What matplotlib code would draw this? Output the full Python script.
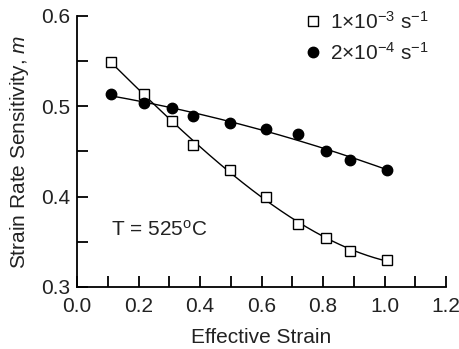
import numpy as np
import matplotlib
matplotlib.use("Agg")
import matplotlib.pyplot as plt
from matplotlib.ticker import MultipleLocator

plt.rcParams["font.family"] = ["Liberation Sans", "DejaVu Sans"]
plt.rcParams["mathtext.fontset"] = "custom"
plt.rcParams["mathtext.rm"] = "Liberation Sans"
plt.rcParams["mathtext.it"] = "Liberation Sans:italic"

# data
strain = [0.11, 0.218, 0.308, 0.378, 0.497, 0.616, 0.72, 0.809, 0.887, 1.008]
m_fast = [0.549, 0.514, 0.484, 0.457, 0.429, 0.400, 0.370, 0.354, 0.340, 0.330]
m_slow = [0.514, 0.504, 0.498, 0.489, 0.481, 0.475, 0.469, 0.451, 0.441, 0.430]
labels = ["1×10$^{-3}$ s$^{-1}$", "2×10$^{-4}$ s$^{-1}$"]

fs = 15
txt_color = "#222222"

fig = plt.figure(figsize=(4.6, 3.49), dpi=100)
ax = fig.add_axes([77 / 460, 1 - 287 / 349, (446 - 77) / 460, (287 - 16) / 349])

xs = np.linspace(strain[0], strain[-1], 200)
fit_fast = np.polyfit(strain, m_fast, 3)
fit_slow = np.polyfit(strain, m_slow, 2)
ax.plot(xs, np.polyval(fit_fast, xs), color="black", lw=1.0)
ax.plot(xs, np.polyval(fit_slow, xs), color="black", lw=1.0)

ax.plot(strain, m_fast, ls="none", marker="s", ms=7, mfc="white", mec="black",
        mew=1.0, label=labels[0], zorder=3)
ax.plot(strain, m_slow, ls="none", marker="o", ms=7.5, mfc="black", mec="black",
        label=labels[1], zorder=3)

ax.set_xlim(0, 1.2)
ax.set_ylim(0.3, 0.6)
ax.xaxis.set_major_locator(MultipleLocator(0.2))
ax.xaxis.set_minor_locator(MultipleLocator(0.1))
ax.yaxis.set_major_locator(MultipleLocator(0.1))
ax.yaxis.set_minor_locator(MultipleLocator(0.05))
ax.xaxis.set_major_formatter(plt.FormatStrFormatter("%.1f"))
ax.yaxis.set_major_formatter(plt.FormatStrFormatter("%.1f"))
ax.spines["top"].set_visible(False)
ax.spines["right"].set_visible(False)
ax.spines["left"].set_linewidth(1.3)
ax.spines["bottom"].set_linewidth(1.3)
ax.tick_params(which="both", direction="in", length=8, width=1.3,
               labelsize=fs, labelcolor=txt_color)
ax.tick_params(axis="x", pad=7)
ax.tick_params(axis="y", pad=5)

ax.set_xlabel("Effective Strain", fontsize=fs, labelpad=9, color=txt_color)
ax.set_ylabel("Strain Rate Sensitivity, $m$", fontsize=fs, labelpad=7, color=txt_color)
ax.text(0.11, 0.363, "T = 525$^{\\rm o}$C", fontsize=fs, va="center", color=txt_color)

ax.legend(loc="upper left", frameon=False, fontsize=fs, handletextpad=0.3,
          handlelength=1.0, borderaxespad=0.0, borderpad=0.0, labelspacing=0.45,
          bbox_to_anchor=(0.612, 1.02), labelcolor=txt_color)

fig.savefig("out.png", dpi=100)
